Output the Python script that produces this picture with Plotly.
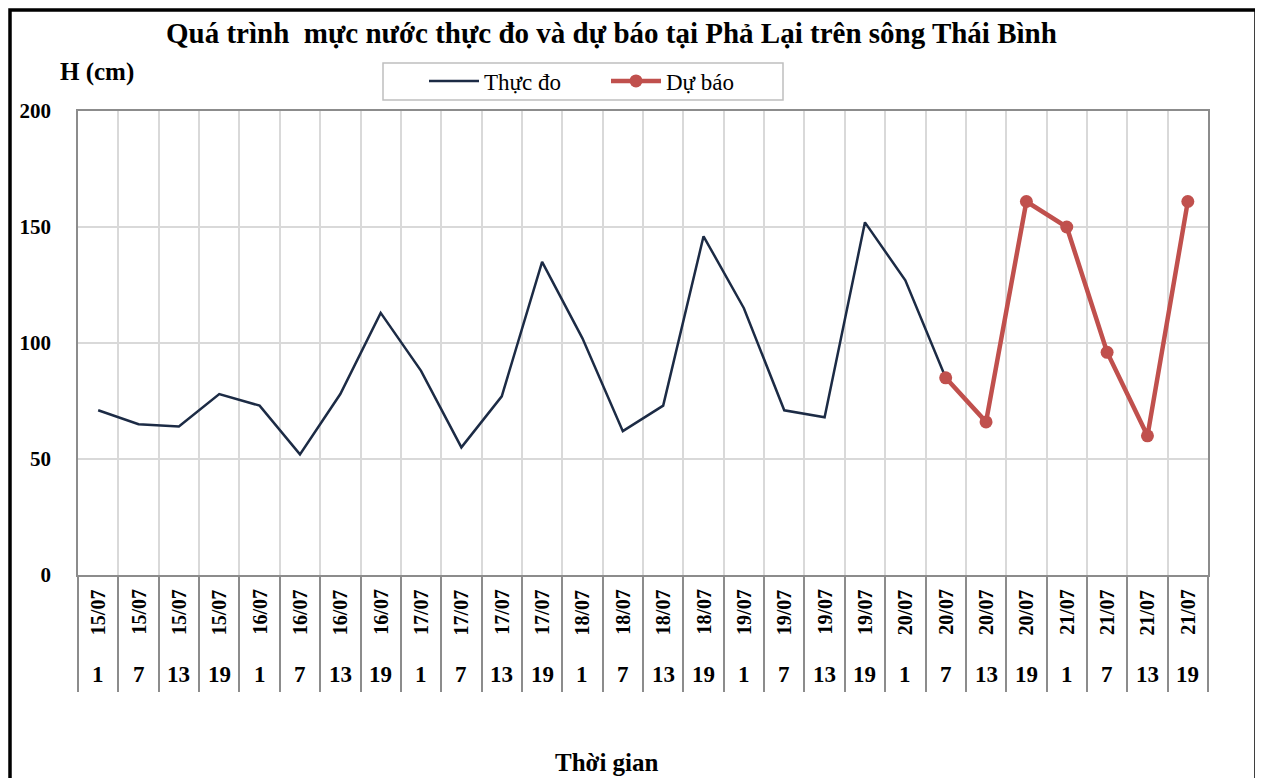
import plotly.graph_objects as go

dates = ["15/07"] * 4 + ["16/07"] * 4 + ["17/07"] * 4 + ["18/07"] * 4 + ["19/07"] * 4 + ["20/07"] * 4 + ["21/07"] * 4
hours = ["1", "7", "13", "19"] * 7
observed = [71, 65, 64, 78, 73, 52, 78, 113, 88, 55, 77, 135, 102, 62, 73, 146, 115, 71, 68, 152, 127, 85]
forecast = [85, 66, 161, 150, 96, 60, 161]
forecast_start = 21

cats = [f"{d} {h}" for d, h in zip(dates, hours)]

SERIF = "Liberation Serif, Times New Roman, serif"

# page offset (default body margin) and plot-area geometry in page pixels
OFF = 8
W, H = 1263 - OFF, 778 - OFF
L, R, T, B = 78 - OFF, 1208 - OFF, 111 - OFF, 575 - OFF
PW, PH = R - L, B - T


def px(xp):
    return (xp - OFF - L) / PW


def py(yp):
    return (B - (yp - OFF)) / PH


fig = go.Figure()
fig.add_trace(go.Scatter(
    x=cats[:len(observed)], y=observed, mode="lines", name="Thực đo",
    line=dict(color="#1C2B45", width=2.5),
))
fig.add_trace(go.Scatter(
    x=cats[forecast_start:forecast_start + len(forecast)], y=forecast, mode="lines+markers", name="Dự báo",
    line=dict(color="#C0504D", width=4.5), marker=dict(color="#C0504D", size=13),
))

annotations = []
for i, (d, h) in enumerate(zip(dates, hours)):
    annotations.append(dict(x=cats[i], y=0, xref="x", yref="paper", text=d, textangle=-90,
                            showarrow=False, yanchor="top", xanchor="center", yshift=-12,
                            font=dict(family=SERIF, size=20, color="black", weight="bold")))
    annotations.append(dict(x=cats[i], y=0, xref="x", yref="paper", text=h,
                            showarrow=False, yanchor="middle", xanchor="center", yshift=-99,
                            font=dict(family=SERIF, size=23, color="black", weight="bold")))

annotations.append(dict(text="<b>Quá trình  mực nước thực đo và dự báo tại Phả Lại trên sông Thái Bình</b>",
                        x=px(611), y=py(33), xref="paper", yref="paper", showarrow=False,
                        xanchor="center", yanchor="middle",
                        font=dict(family=SERIF, size=29, color="black")))
annotations.append(dict(text="<b>H (cm)</b>", x=px(58), y=py(72), xref="paper", yref="paper",
                        showarrow=False, xanchor="left", yanchor="middle",
                        font=dict(family=SERIF, size=25, color="black")))
annotations.append(dict(text="<b>Thời gian</b>", x=px(607), y=py(762), xref="paper", yref="paper",
                        showarrow=False, xanchor="center", yanchor="middle",
                        font=dict(family=SERIF, size=25, color="black")))

fig.update_layout(
    width=W, height=H,
    margin=dict(l=L, r=W - R, t=T, b=H - B, autoexpand=False),
    paper_bgcolor="white", plot_bgcolor="white",
    showlegend=True,
    legend=dict(orientation="h", x=px(424), y=py(81), xanchor="left", yanchor="middle",
                borderwidth=0, bgcolor="rgba(0,0,0,0)",
                font=dict(family=SERIF, size=23, color="black"), itemwidth=50,
                entrywidth=117),
    xaxis=dict(type="category", tickson="boundaries", showgrid=True, gridcolor="#D9D9D9", gridwidth=1.5,
               ticks="outside", ticklen=115, tickcolor="#8C8C8C", tickwidth=2,
               showticklabels=False, showline=True, linecolor="#8C8C8C", linewidth=2,
               mirror=True, range=[-0.5, len(cats) - 0.5], zeroline=False, automargin=False),
    yaxis=dict(range=[0, 200], dtick=50, showgrid=True, gridcolor="#D9D9D9", gridwidth=1.5,
               showline=True, linecolor="#8C8C8C", linewidth=1.5, mirror=True, zeroline=False,
               ticks="", ticklabelstandoff=21, automargin=False,
               tickfont=dict(family=SERIF, size=21, color="black", weight="bold")),
    annotations=annotations,
    shapes=[
        dict(type="rect", xref="paper", yref="paper",
             x0=px(OFF + 2), x1=px(1256), y0=py(900), y1=py(OFF + 2),
             line=dict(color="black", width=3.5), fillcolor="rgba(0,0,0,0)", layer="below"),
        dict(type="rect", xref="paper", yref="paper",
             x0=px(383), x1=px(783), y0=py(100), y1=py(63),
             line=dict(color="#BFBFBF", width=1.5), fillcolor="rgba(0,0,0,0)", layer="below"),
    ],
)

fig.write_html("out.html")
